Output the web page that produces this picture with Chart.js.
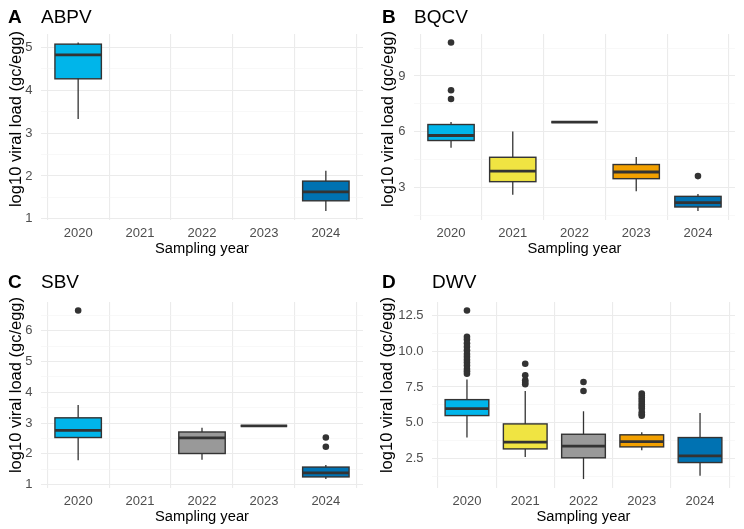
<!DOCTYPE html>
<html>
<head>
<meta charset="utf-8">
<script src="https://cdn.jsdelivr.net/npm/chart.js@4.4.1/dist/chart.umd.min.js"></script>
<style>
  body { margin: 0; background: #fff; font-family: "Liberation Sans", Arial, sans-serif; }
  #wrap { position: relative; width: 744px; height: 529px; }
  .panel { position: absolute; width: 372px; height: 263px; }
  .tag, .title { position: absolute; font-size: 19px; line-height: 19px; color: #000; z-index: 2; }
  .tag { font-weight: bold; }
  .ytitle { position: absolute; width: 200px; height: 20px; line-height: 20px; margin-left: -100px; margin-top: -10px;
            text-align: center; font-size: 16.5px; color: #000; transform: rotate(-90deg); white-space: nowrap; z-index: 2; }
</style>
</head>
<body>
<div id="wrap">
  <div class="tag" style="left:8px;top:7px">A</div>
  <div class="title" style="left:41px;top:7px">ABPV</div>
  <div class="tag" style="left:382px;top:7px">B</div>
  <div class="title" style="left:414px;top:7px">BQCV</div>
  <div class="tag" style="left:8px;top:272px">C</div>
  <div class="title" style="left:41px;top:272px">SBV</div>
  <div class="tag" style="left:382px;top:272px">D</div>
  <div class="title" style="left:432px;top:272px">DWV</div>
  <div class="ytitle" style="left:15px;top:118.5px">log10 viral load (gc/egg)</div>
  <div class="ytitle" style="left:387px;top:118.5px">log10 viral load (gc/egg)</div>
  <div class="ytitle" style="left:15px;top:385px">log10 viral load (gc/egg)</div>
  <div class="ytitle" style="left:386px;top:385px">log10 viral load (gc/egg)</div>
  <canvas id="chartA" class="panel" width="372" height="263" style="left:0;top:0"></canvas>
  <canvas id="chartB" class="panel" width="372" height="263" style="left:372px;top:0"></canvas>
  <canvas id="chartC" class="panel" width="372" height="263" style="left:0;top:268px"></canvas>
  <canvas id="chartD" class="panel" width="372" height="263" style="left:372px;top:268px"></canvas>
</div>
<script>
// Años de muestreo y colores
const years = ["2020", "2021", "2022", "2023", "2024"];
const yearColors = ["#00B5EA", "#F0E442", "#999999", "#F2A000", "#0072B2"];

// Estadísticos por año: [mín. bigote, Q1, mediana, Q3, máx. bigote]
const abpvStats = [[3.33, 4.27, 4.83, 5.08, 5.12], null, null, null, [1.18, 1.42, 1.63, 1.88, 2.12]];
const abpvOut = [[], [], [], [], []];

const bqcvStats = [
  [5.14, 5.53, 5.80, 6.39, 6.52],
  [2.62, 3.32, 3.89, 4.63, 6.02],
  [6.52, 6.52, 6.52, 6.52, 6.52],
  [2.80, 3.48, 3.84, 4.24, 4.65],
  [1.74, 1.96, 2.19, 2.53, 2.66]
];
const bqcvOut = [[10.8, 8.23, 7.76], [], [], [], [3.62]];

const sbvStats = [
  [1.79, 2.53, 2.76, 3.17, 3.59],
  null,
  [1.81, 2.01, 2.52, 2.71, 2.85],
  [2.91, 2.91, 2.91, 2.91, 2.91],
  [1.18, 1.25, 1.38, 1.57, 1.64]
];
const sbvOut = [[6.66], [], [], [], [2.53, 2.23]];

const dwvStats = [
  [3.98, 5.51, 5.99, 6.62, 8.03],
  [2.62, 3.19, 3.66, 4.93, 7.22],
  [1.09, 2.57, 3.38, 4.21, 5.81],
  [3.10, 3.33, 3.70, 4.17, 4.35],
  [1.32, 2.24, 2.71, 3.98, 5.69]
];
const dwvOut = [
  [12.83, 11.0, 10.8, 10.55, 10.3, 10.05, 9.8, 9.6, 9.4, 9.2, 9.0, 8.75, 8.6, 8.42],
  [9.12, 8.31, 7.97, 7.82, 7.69],
  [7.85, 7.22],
  [7.05, 6.9, 6.75, 6.6, 6.45, 6.3, 6.15, 6.0, 5.75, 5.6, 5.5],
  []
];

// Marcas de los ejes Y (mayores y menores)
const abpvTicks = [1, 2, 3, 4, 5];
const abpvMinor = [1.5, 2.5, 3.5, 4.5];
const bqcvTicks = [3, 6, 9];
const bqcvMinor = [1.5, 4.5, 7.5, 10.5];
const sbvTicks = [1, 2, 3, 4, 5, 6];
const sbvMinor = [1.5, 2.5, 3.5, 4.5, 5.5, 6.5];
const dwvTicks = [2.5, 5, 7.5, 10, 12.5];
const dwvMinor = [1.25, 3.75, 6.25, 8.75, 11.25];

const boxWidth = 0.75;
const ink = "#333333";

Chart.defaults.font.family = '"Liberation Sans", Arial, sans-serif';

// Bigotes, contorno de cajas y medianas
const boxPlugin = {
  id: "boxWhiskers",
  beforeDatasetsDraw(chart) {
    const { ctx, scales: { x, y } } = chart;
    const stats = chart.options.plugins.boxWhiskers.stats;
    ctx.save();
    ctx.strokeStyle = ink;
    ctx.lineWidth = 1.3;
    stats.forEach((s, i) => {
      if (!s) return;
      const px = x.getPixelForValue(i);
      ctx.beginPath();
      ctx.moveTo(px, y.getPixelForValue(s[0]));
      ctx.lineTo(px, y.getPixelForValue(s[4]));
      ctx.stroke();
    });
    ctx.restore();
  },
  afterDatasetsDraw(chart) {
    const { ctx, scales: { x, y } } = chart;
    const stats = chart.options.plugins.boxWhiskers.stats;
    ctx.save();
    ctx.strokeStyle = ink;
    stats.forEach((s, i) => {
      if (!s) return;
      const l = x.getPixelForValue(i - boxWidth / 2);
      const r = x.getPixelForValue(i + boxWidth / 2);
      const top = y.getPixelForValue(s[3]);
      const bot = y.getPixelForValue(s[1]);
      ctx.lineWidth = 1.4;
      ctx.strokeRect(l, top, r - l, bot - top);
      const py = y.getPixelForValue(s[2]);
      ctx.lineWidth = 2.8;
      ctx.beginPath();
      ctx.moveTo(l, py);
      ctx.lineTo(r, py);
      ctx.stroke();
    });
    ctx.restore();
  }
};

function makePanel(id, stats, outliers, majors, minors, fmt, axisWidth) {
  const all = [];
  stats.forEach(s => { if (s) all.push(s[0], s[4]); });
  outliers.forEach(o => all.push(...o));
  const lo = Math.min(...all), hi = Math.max(...all);
  const pad = (hi - lo) * 0.05;

  const points = [];
  outliers.forEach((o, i) => o.forEach(v => points.push({ x: i, y: v })));

  new Chart(document.getElementById(id), {
    type: "bar",
    data: {
      datasets: [
        {
          type: "bar",
          order: 1,
          data: years.map((yr, i) => ({ x: i, y: stats[i] ? [stats[i][1], stats[i][3]] : null })),
          backgroundColor: yearColors,
          borderWidth: 0,
          barPercentage: boxWidth,
          categoryPercentage: 1
        },
        {
          type: "scatter",
          order: 0,
          data: points,
          pointRadius: 3.3,
          pointBackgroundColor: ink,
          pointBorderWidth: 0
        }
      ]
    },
    options: {
      responsive: false,
      animation: false,
      devicePixelRatio: 1,
      layout: { padding: { top: 34, right: 9, left: 0, bottom: 0 } },
      plugins: {
        legend: { display: false },
        tooltip: { enabled: false },
        boxWhiskers: { stats: stats }
      },
      scales: {
        x: {
          type: "linear",
          min: -0.6,
          max: 4.6,
          offset: false,
          afterBuildTicks: axis => { axis.ticks = years.map((yr, i) => ({ value: i })); },
          afterFit: axis => { axis.height = 43.5; },
          ticks: {
            callback: v => years[v],
            color: "#4D4D4D",
            font: { size: 13 },
            padding: 6,
            autoSkip: false,
            maxRotation: 0
          },
          grid: { color: "#EBEBEB", lineWidth: 1.1, drawTicks: false },
          border: { display: false },
          title: {
            display: true,
            text: "Sampling year",
            color: "#000",
            font: { size: 14.7 },
            padding: { top: 0, bottom: 5 }
          }
        },
        y: {
          min: lo - pad,
          max: hi + pad,
          afterBuildTicks: axis => {
            axis.ticks = majors.concat(minors).sort((a, b) => a - b).map(v => ({ value: v }));
          },
          afterFit: axis => { axis.width = axisWidth; },
          ticks: {
            callback: v => majors.includes(v) ? fmt(v) : "",
            color: "#4D4D4D",
            font: { size: 13 },
            padding: 8.5,
            autoSkip: false
          },
          grid: {
            color: c => majors.includes(c.tick.value) ? "#EBEBEB" : "#F4F4F4",
            lineWidth: c => majors.includes(c.tick.value) ? 1.1 : 0.6,
            drawTicks: false
          },
          border: { display: false }
        }
      }
    },
    plugins: [boxPlugin]
  });
}

const plain = v => String(v);
const oneDec = v => v.toFixed(1);

makePanel("chartA", abpvStats, abpvOut, abpvTicks, abpvMinor, plain, 41);
makePanel("chartB", bqcvStats, bqcvOut, bqcvTicks, bqcvMinor, plain, 42);
makePanel("chartC", sbvStats, sbvOut, sbvTicks, sbvMinor, plain, 41);
makePanel("chartD", dwvStats, dwvOut, dwvTicks, dwvMinor, oneDec, 60);
</script>
</body>
</html>
